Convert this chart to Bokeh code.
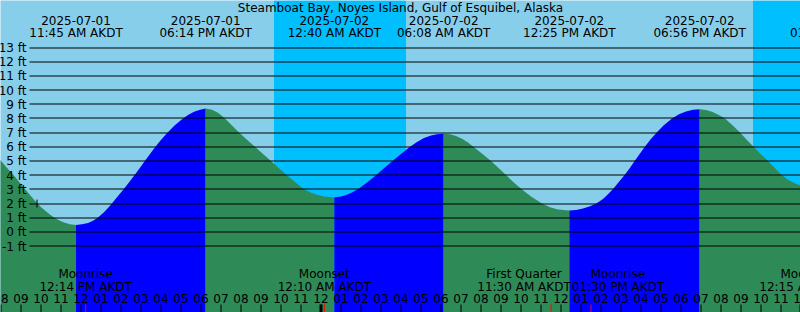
import math
from bokeh.plotting import figure
from bokeh.embed import file_html
from bokeh.resources import INLINE
from bokeh.models import Range1d
from bokeh.core.properties import value

# ---------------- data (hours since 2025-07-01 00:00 AKDT) ----------------
TITLE = "Steamboat Bay, Noyes Island, Gulf of Esquibel, Alaska"

tide_hours = [7.95, 8.25, 8.615, 8.9, 9.2, 9.45, 9.75, 10.05, 10.35, 10.615, 10.9, 11.15, 11.45, 11.75,
              12.05, 12.35, 12.6, 12.85, 13.15, 13.45, 13.8, 14.15, 14.425, 14.7, 14.95, 15.2,
              15.45, 15.7, 15.975, 16.285, 16.65, 17.035, 17.35, 17.65, 17.95, 18.233,
              18.55, 18.85, 19.2, 19.55, 19.915, 20.3, 20.7, 21.1, 21.5, 21.9, 22.3, 22.7,
              23.15, 23.5, 23.85, 24.15, 24.4, 24.667,
              24.95, 25.25, 25.55, 25.9, 26.3, 26.75, 27.15, 27.575, 28.0, 28.45, 28.8,
              29.15, 29.5, 29.8, 30.133,
              30.45, 30.75, 31.05, 31.35, 31.65, 32.075, 32.5, 32.85, 33.225, 33.6, 34.05,
              34.5, 35.05, 35.45, 35.8, 36.1, 36.417,
              36.75, 37.1, 37.45, 37.785, 38.1, 38.35, 38.615, 38.9, 39.2, 39.45, 39.7,
              39.95, 40.2, 40.475, 40.785, 41.125, 41.535, 41.9, 42.25, 42.6, 42.933,
              43.25, 43.55, 43.875, 44.2, 44.575, 44.95, 45.275, 45.615, 45.975, 46.365,
              46.7, 47.035, 47.35, 47.65, 48.0]
tide_ft = [5.09, 4.6, 4.03, 3.54, 3.03, 2.6, 2.12, 1.7, 1.34, 1.06, 0.83, 0.67, 0.55, 0.5,
           0.54, 0.64, 0.8, 1.03, 1.4, 1.85, 2.45, 3.05, 3.55, 4.05, 4.53, 5.02,
           5.5, 5.97, 6.45, 6.95, 7.47, 7.93, 8.24, 8.47, 8.62, 8.7,
           8.62, 8.4, 8.0, 7.5, 7.0, 6.5, 6.0, 5.5, 5.0, 4.5, 4.0, 3.52,
           3.02, 2.76, 2.6, 2.51, 2.47, 2.45,
           2.48, 2.6, 2.78, 3.07, 3.48, 4.0, 4.5, 5.0, 5.5, 6.0, 6.35,
           6.62, 6.8, 6.89, 6.92,
           6.88, 6.77, 6.58, 6.3, 5.98, 5.5, 5.0, 4.55, 4.05, 3.55, 3.0,
           2.5, 2.0, 1.75, 1.61, 1.55, 1.52,
           1.55, 1.65, 1.82, 2.02, 2.33, 2.66, 3.05, 3.55, 4.05, 4.53, 5.03,
           5.53, 6.02, 6.52, 7.02, 7.5, 7.98, 8.3, 8.5, 8.61, 8.65,
           8.6, 8.47, 8.27, 8.0, 7.52, 7.02, 6.52, 6.02, 5.5, 4.98,
           4.5, 4.02, 3.68, 3.45, 3.26]

extreme_hours = [11.75, 18.233, 24.667, 30.133, 36.417, 42.933, 49.783]
extreme_dates = ["2025-07-01", "2025-07-01", "2025-07-02", "2025-07-02",
                 "2025-07-02", "2025-07-02", "2025-07-03"]
extreme_times = ["11:45 AM AKDT", "06:14 PM AKDT", "12:40 AM AKDT", "06:08 AM AKDT",
                 "12:25 PM AKDT", "06:56 PM AKDT", "01:47 AM AKDT"]

night_start = [21.65, 45.6]
night_end = [28.25, 52.0]

moon_hours = [12.233, 24.167, 35.5, 37.5, 48.25]
moon_names = ["Moonrise", "Moonset", "First Quarter", "Moonrise", "Moonset"]
moon_times = ["12:14 PM AKDT", "12:10 AM AKDT", "11:30 AM AKDT", "01:30 PM AKDT", "12:15 AM AKDT"]

level_ticks = list(range(-1, 14))
hour_ticks = list(range(8, 49))
midnights = [24, 48]
mark_hours = [9.8]
mark_ft = [2.0]

# ---------------- layout ----------------
W, H = 800, 312
PX_PER_H = 20.0
H0 = 7.975
PX_PER_FT = 14.19
ZERO_PY = 231.5
FT_TOP = ZERO_PY / PX_PER_FT
FT_BOT = -(H - ZERO_PY) / PX_PER_FT
TXT_SHIFT = 4.0  # px upward correction for text baselines


def py2ft(py):
    return (ZERO_PY - py) / PX_PER_FT


def ft2py(ft):
    return ZERO_PY - ft * PX_PER_FT


def snap_ft(ft):
    # put a 1px line on a pixel centre so it renders crisp
    return py2ft(round(ft2py(ft) - 0.5) + 0.5)


def tpy(py):
    return py2ft(py - TXT_SHIFT)


def px2h(px):
    return H0 + px / PX_PER_H


DAY = "#87CEEB"
NIGHT = "#00BFFF"
RISE = "#0000FF"
FALL = "#2E8B57"
FONT = value("DejaVu Sans")

p = figure(width=W, height=H, output_backend="svg", toolbar_location=None,
           x_range=Range1d(H0, H0 + W / PX_PER_H), y_range=Range1d(FT_BOT, FT_TOP),
           x_axis_type=None, y_axis_type=None, min_border=0,
           background_fill_color=DAY, border_fill_color=DAY, outline_line_color=None)
p.grid.visible = False

# night
p.quad(left=night_start, right=night_end, top=FT_TOP, bottom=FT_BOT,
       fill_color=NIGHT, line_color=None)

# tide fill segments (rising = blue, falling = green)
bounds = [tide_hours[0]] + [e for e in extreme_hours if e < tide_hours[-1]] + [tide_hours[-1]]
for a, b in zip(bounds[:-1], bounds[1:]):
    xs = [h for h in tide_hours if a - 1e-6 <= h <= b + 1e-6]
    ys = [f for h, f in zip(tide_hours, tide_ft) if a - 1e-6 <= h <= b + 1e-6]
    col = RISE if ys[-1] > ys[0] else FALL
    p.varea(x=xs, y1=[FT_BOT] * len(xs), y2=ys, fill_color=col)

# level lines
x_line0 = px2h(29)
x_line1 = px2h(W + 2)
line_y = [snap_ft(v) for v in level_ticks]
p.segment(x0=[x_line0] * len(level_ticks), x1=[x_line1] * len(level_ticks),
          y0=line_y, y1=line_y, line_color="black", line_width=1)
p.text(x=[px2h(26)] * len(level_ticks),
       y=[v - (4.4 - TXT_SHIFT) / PX_PER_FT for v in level_ticks],
       text=[f"{v} ft" for v in level_ticks], text_font=FONT, text_font_size="12px",
       text_align="right", text_baseline="alphabetic", text_color="black")

# mark
p.segment(x0=mark_hours, x1=mark_hours, y0=[m - 4 / PX_PER_FT for m in mark_ft],
          y1=[m + 4 / PX_PER_FT for m in mark_ft], line_color="black", line_width=1)

# title and extreme labels
p.text(x=[px2h(W / 2)], y=[tpy(11.7)], text=[TITLE], text_font=FONT,
       text_font_size="12px", text_align="center", text_baseline="alphabetic")
p.text(x=extreme_hours, y=[tpy(24.2)] * len(extreme_hours), text=extreme_dates,
       text_font=FONT, text_font_size="12px", text_align="center", text_baseline="alphabetic")
p.text(x=extreme_hours, y=[tpy(36.8)] * len(extreme_hours), text=extreme_times,
       text_font=FONT, text_font_size="12px", text_align="center", text_baseline="alphabetic")

# moon labels with simple overlap avoidance
LABEL_W_H = 94 / PX_PER_H
pos = list(moon_hours)
for i in range(len(pos) - 1):
    d = pos[i + 1] - pos[i]
    if d < LABEL_W_H:
        s = (LABEL_W_H - d) / 2
        pos[i] -= s
        pos[i + 1] += s
p.text(x=pos, y=[tpy(277.7)] * len(pos), text=moon_names, text_font=FONT,
       text_font_size="12px", text_align="center", text_baseline="alphabetic")
p.text(x=pos, y=[tpy(290.3)] * len(pos), text=moon_times, text_font=FONT,
       text_font_size="12px", text_align="center", text_baseline="alphabetic")

# hour labels and ticks
hour_lbl = [f"{(h % 12) if h % 12 else 12:02d}" for h in hour_ticks]
p.text(x=hour_ticks, y=[tpy(301.7)] * len(hour_ticks), text=hour_lbl, text_font=FONT,
       text_font_size="12px", text_align="center", text_baseline="alphabetic")
p.segment(x0=hour_ticks, x1=hour_ticks, y0=[py2ft(304)] * len(hour_ticks),
          y1=[FT_BOT] * len(hour_ticks), line_color="black", line_width=1)
p.segment(x0=midnights, x1=midnights, y0=[py2ft(304)] * len(midnights),
          y1=[FT_BOT] * len(midnights), line_color="black", line_width=3)
p.segment(x0=moon_hours, x1=moon_hours, y0=[py2ft(304)] * len(moon_hours),
          y1=[FT_BOT] * len(moon_hours), line_color="red", line_width=1)

open("out.html", "w").write(file_html(p, INLINE))
